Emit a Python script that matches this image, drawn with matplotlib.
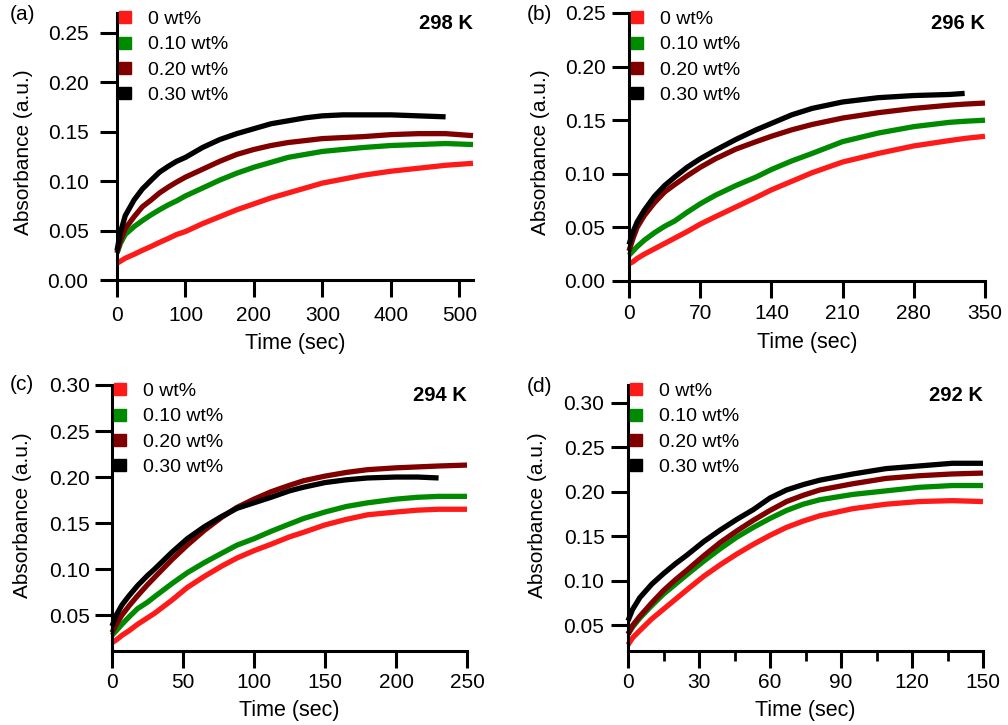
import numpy as np
import matplotlib.pyplot as plt
from matplotlib.lines import Line2D
from matplotlib.ticker import MultipleLocator, FormatStrFormatter

plt.rcParams['font.family'] = ['Liberation Sans', 'DejaVu Sans']
plt.rcParams['font.size'] = 15

# series labels and colours
conc = ['0 wt%', '0.10 wt%', '0.20 wt%', '0.30 wt%']
colors = ['#ff1a1a', '#008a00', '#800000', '#000000']

# (a) 298 K
t_a = [0, 5, 12, 25, 37, 50, 62, 75, 87, 100, 125, 150, 175, 200, 225, 250, 275, 300, 330, 360, 400, 440, 480, 520]
a_0 = [0.017, 0.019, 0.022, 0.026, 0.030, 0.034, 0.038, 0.042, 0.046, 0.049, 0.057, 0.064, 0.071, 0.077,
       0.083, 0.088, 0.093, 0.098, 0.102, 0.106, 0.110, 0.113, 0.116, 0.118]
a_10 = [0.027, 0.037, 0.046, 0.054, 0.060, 0.066, 0.071, 0.076, 0.080, 0.085, 0.093, 0.101, 0.108, 0.114,
        0.119, 0.124, 0.127, 0.130, 0.132, 0.134, 0.136, 0.137, 0.138, 0.137]
a_20 = [0.028, 0.040, 0.052, 0.064, 0.074, 0.081, 0.088, 0.094, 0.099, 0.104, 0.112, 0.120, 0.127, 0.132,
        0.136, 0.139, 0.141, 0.143, 0.144, 0.145, 0.147, 0.148, 0.148, 0.146]
a_30 = [0.030, 0.048, 0.065, 0.081, 0.092, 0.101, 0.109, 0.115, 0.120, 0.124, 0.134, 0.142, 0.148, 0.153,
        0.158, 0.161, 0.164, 0.166, 0.167, 0.167, 0.167, 0.166, 0.165]
t_a30 = t_a[:-1]

# (b) 296 K
t_b = [0, 4, 8, 15, 25, 35, 45, 57, 70, 85, 105, 125, 140, 160, 180, 210, 245, 280, 315, 330, 350]
b_0 = [0.016, 0.018, 0.021, 0.025, 0.030, 0.035, 0.040, 0.046, 0.053, 0.060, 0.069, 0.078, 0.085, 0.093,
       0.101, 0.111, 0.119, 0.126, 0.131, 0.133, 0.135]
b_10 = [0.024, 0.028, 0.032, 0.038, 0.045, 0.051, 0.056, 0.064, 0.072, 0.080, 0.089, 0.097, 0.104, 0.112,
        0.119, 0.130, 0.138, 0.144, 0.148, 0.149, 0.150]
b_20 = [0.028, 0.040, 0.050, 0.061, 0.073, 0.083, 0.090, 0.098, 0.106, 0.114, 0.123, 0.130, 0.135, 0.141,
        0.146, 0.152, 0.157, 0.161, 0.164, 0.165, 0.166]
b_30 = [0.034, 0.046, 0.055, 0.066, 0.079, 0.089, 0.097, 0.106, 0.114, 0.122, 0.132, 0.141, 0.147, 0.155,
        0.161, 0.167, 0.171, 0.173, 0.174, 0.175]
t_b30 = t_b[:-1]

# (c) 294 K
t_c = [0, 3, 7, 12, 18, 25, 30, 42, 53, 65, 77, 88, 100, 112, 125, 135, 150, 165, 180, 200, 215, 230, 250]
c_0 = [0.020, 0.023, 0.028, 0.033, 0.040, 0.047, 0.052, 0.066, 0.080, 0.092, 0.103, 0.112, 0.120, 0.127,
       0.135, 0.140, 0.148, 0.154, 0.159, 0.162, 0.164, 0.165, 0.165]
c_10 = [0.028, 0.033, 0.040, 0.048, 0.057, 0.064, 0.070, 0.084, 0.096, 0.107, 0.117, 0.126, 0.133, 0.141,
        0.149, 0.155, 0.162, 0.168, 0.172, 0.176, 0.178, 0.179, 0.179]
c_20 = [0.031, 0.040, 0.050, 0.060, 0.071, 0.083, 0.091, 0.110, 0.126, 0.142, 0.156, 0.167, 0.176, 0.184,
        0.191, 0.196, 0.201, 0.205, 0.208, 0.210, 0.211, 0.212, 0.213]
c_30 = [0.038, 0.050, 0.061, 0.071, 0.082, 0.093, 0.100, 0.118, 0.133, 0.146, 0.157, 0.166, 0.172, 0.178,
        0.185, 0.189, 0.194, 0.197, 0.199, 0.200, 0.200, 0.199]
t_c30 = t_c[:-1]

# (d) 292 K
t_d = [0, 2, 5, 10, 15, 20, 25, 32, 39, 46, 53, 60, 67, 74, 81, 95, 109, 123, 137, 150]
d_0 = [0.028, 0.036, 0.044, 0.057, 0.068, 0.079, 0.090, 0.105, 0.118, 0.130, 0.141, 0.151, 0.160, 0.167,
       0.173, 0.181, 0.186, 0.189, 0.190, 0.189]
d_10 = [0.040, 0.048, 0.058, 0.072, 0.085, 0.096, 0.107, 0.122, 0.136, 0.149, 0.160, 0.170, 0.179, 0.186,
        0.191, 0.197, 0.201, 0.205, 0.207, 0.207]
d_20 = [0.040, 0.050, 0.060, 0.075, 0.089, 0.101, 0.112, 0.128, 0.143, 0.156, 0.168, 0.179, 0.189, 0.196,
        0.202, 0.209, 0.215, 0.218, 0.220, 0.221]
d_30 = [0.055, 0.068, 0.081, 0.096, 0.108, 0.119, 0.129, 0.144, 0.157, 0.169, 0.180, 0.193, 0.202, 0.208,
        0.213, 0.220, 0.226, 0.229, 0.232, 0.232]

panels = [
    dict(tag='(a)', temp='298 K', pos=(117, 473, 13, 280), xlim=(0, 520), xstep=100, ylim=(0, 0.27),
         series=[(t_a, a_0), (t_a, a_10), (t_a, a_20), (t_a30, a_30)], minor=None,
         ypad=8.5, xpad=7, tagpos=(10, 15), ylab=(-0.264, 0.479), xlab=-0.236),
    dict(tag='(b)', temp='296 K', pos=(629, 985, 13, 281), xlim=(0, 350), xstep=70, ylim=(0, 0.25),
         series=[(t_b, b_0), (t_b, b_10), (t_b, b_20), (t_b30, b_30)], minor=None,
         ypad=5, xpad=4.5, tagpos=(527, 15), ylab=(-0.25, 0.481), xlab=-0.231),
    dict(tag='(c)', temp='294 K', pos=(112, 467, 385, 651), xlim=(0, 250), xstep=50, ylim=(0.011, 0.30),
         series=[(t_c, c_0), (t_c, c_10), (t_c, c_20), (t_c30, c_30)], minor=None,
         ypad=4, xpad=4, tagpos=(10, 385), ylab=(-0.251, 0.511), xlab=-0.222),
    dict(tag='(d)', temp='292 K', pos=(628, 983, 385, 651), xlim=(0, 150), xstep=30, ylim=(0.021, 0.32),
         series=[(t_d, d_0), (t_d, d_10), (t_d, d_20), (t_d, d_30)], minor=15,
         ypad=5, xpad=4, tagpos=(527, 386), ylab=(-0.254, 0.511), xlab=-0.222),
]

W, H = 1008, 725
fig = plt.figure(figsize=(W / 100, H / 100), dpi=100)

for p in panels:
    x0, x1, ytop, ybot = p['pos']
    ax = fig.add_axes([x0 / W, 1 - ybot / H, (x1 - x0) / W, (ybot - ytop) / H])
    for (t, v), c in zip(p['series'], colors):
        ax.plot(t, v, color=c, lw=3.8, solid_capstyle='butt', solid_joinstyle='round', clip_on=False)
    ax.set_xlim(*p['xlim'])
    ax.set_ylim(*p['ylim'])
    ax.xaxis.set_major_locator(MultipleLocator(p['xstep']))
    ax.yaxis.set_major_locator(MultipleLocator(0.05))
    ax.yaxis.set_major_formatter(FormatStrFormatter('%.2f'))
    if p['minor']:
        ax.xaxis.set_minor_locator(MultipleLocator(p['minor']))
        ax.tick_params(axis='x', which='minor', direction='out', length=7, width=2)
    for s in ['top', 'right']:
        ax.spines[s].set_visible(False)
    for s in ['left', 'bottom']:
        ax.spines[s].set_linewidth(2.2)
    ax.tick_params(which='major', direction='out', length=12, width=2.2, labelsize=15)
    ax.tick_params(axis='y', pad=p['ypad'])
    ax.tick_params(axis='x', pad=p['xpad'])
    ax.set_xlabel('Time (sec)', fontsize=15.5, va='center')
    ax.xaxis.set_label_coords(0.5, p['xlab'])
    ax.set_ylabel('Absorbance (a.u.)', fontsize=15, va='center')
    ax.yaxis.set_label_coords(*p['ylab'])
    ax.text(1.0, 0.962, p['temp'], transform=ax.transAxes,
            ha='right', va='center', fontsize=14.5, fontweight='bold')
    fig.text(p['tagpos'][0] / W, 1 - p['tagpos'][1] / H, p['tag'], fontsize=15, ha='left', va='center')
    handles = [Line2D([], [], marker='s', ls='none', color=c, markersize=8.6) for c in colors]
    ax.legend(handles, conc, loc='upper left', bbox_to_anchor=(0.002, 1.01), frameon=False,
              handlelength=0.8, handletextpad=0.75, labelspacing=0.4, borderaxespad=0, fontsize=14,
              borderpad=0)

fig.savefig('out.png', dpi=100)
